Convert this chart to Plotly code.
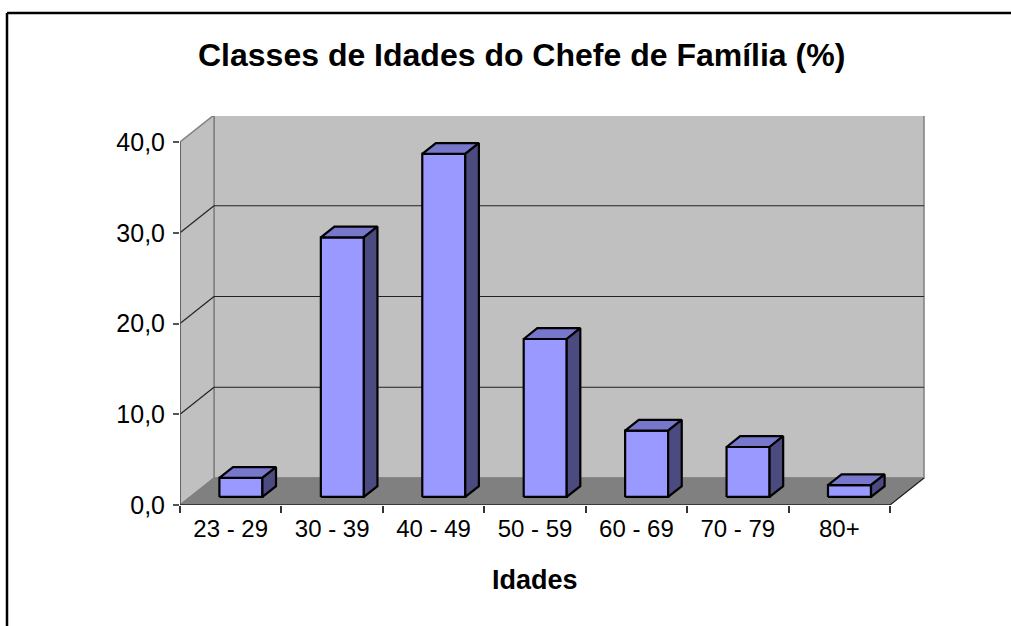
import plotly.graph_objects as go

# ---- data ----
categories = ["23 - 29", "30 - 39", "40 - 49", "50 - 59", "60 - 69", "70 - 79", "80+"]
values = [2.1, 28.6, 37.8, 17.4, 7.3, 5.5, 1.3]
y_ticks = [0, 10, 20, 30, 40]
title_text = "Classes de Idades do Chefe de Família (%)"
x_title = "Idades"

# ---- geometry (in axis units) ----
W, H = 1011, 626
L_M, R_M, T_M, B_M = 180, 86, 116, 121
PW, PH = W - L_M - R_M, H - T_M - B_M
n = len(categories)
x_lo = -0.5
x_hi = n - 0.5
px_per_x = PW / (n + 0.345)
DX = 34 / px_per_x          # depth offset in x units
DY = 2.975                  # depth offset in y units
ymax = 40
yr_top = PH / 9.075
bar_w = 0.424
d0, d1 = 0.3, 0.7           # bar position in depth

FONT = "Liberation Sans, Arial, sans-serif"
front_c, top_c, side_c = "#9999ff", "#7777cc", "#4b4b80"
wall_c, floor_c = "#c0c0c0", "#808080"

shapes = []
def poly(pts, fill, line_c, lw=1, layer="below"):
    p = "M " + " L ".join(f"{x},{y}" for x, y in pts) + " Z"
    shapes.append(dict(type="path", path=p, xref="x", yref="y",
                       fillcolor=fill, line=dict(color=line_c, width=lw), layer=layer))
def seg(x0, y0, x1, y1, c, lw=1, layer="below"):
    shapes.append(dict(type="line", x0=x0, y0=y0, x1=x1, y1=y1, xref="x", yref="y",
                       line=dict(color=c, width=lw), layer=layer))

# back wall, left wall, floor
poly([(x_lo + DX, DY), (x_hi + DX, DY), (x_hi + DX, ymax + DY), (x_lo + DX, ymax + DY)], wall_c, "#808080", 1.5)
poly([(x_lo, 0), (x_lo, ymax), (x_lo + DX, ymax + DY), (x_lo + DX, DY)], wall_c, "#808080", 1.5)
poly([(x_lo, 0), (x_hi, 0), (x_hi + DX, DY), (x_lo + DX, DY)], floor_c, floor_c, 1)
# gridlines
for t in y_ticks[1:-1]:
    seg(x_lo + DX, t + DY, x_hi + DX, t + DY, "#222222", 1.2)
    seg(x_lo, t, x_lo + DX, t + DY, "#222222", 1.2)
# front axes
seg(x_lo, 0, x_lo, ymax, "#555555", 1.5)
seg(x_lo, 0, x_hi, 0, "#222222", 1.5)
seg(x_hi, 0, x_hi + DX, DY, "#222222", 1.2)

fig = go.Figure()
for i, v in enumerate(values):
    x0 = i - bar_w / 2 + d0 * DX
    x1 = i + bar_w / 2 + d0 * DX
    yb = d0 * DY
    yt = v + d0 * DY
    ddx, ddy = (d1 - d0) * DX, (d1 - d0) * DY
    faces = [
        ([x0, x1, x1, x0, x0], [yb, yb, yt, yt, yb], front_c),
        ([x0, x1, x1 + ddx, x0 + ddx, x0], [yt, yt, yt + ddy, yt + ddy, yt], top_c),
        ([x1, x1 + ddx, x1 + ddx, x1, x1], [yb, yb + ddy, yt + ddy, yt, yb], side_c),
    ]
    for xs, ys, c in faces:
        fig.add_trace(go.Scatter(x=xs, y=ys, mode="lines", fill="toself", fillcolor=c,
                                 line=dict(color="black", width=2.2), hoverinfo="skip",
                                 showlegend=False))

# invisible trace for second x-axis
fig.add_trace(go.Scatter(x=[x_lo], y=[0], xaxis="x2", mode="markers",
                         marker=dict(opacity=0), showlegend=False, hoverinfo="skip"))

bx = (7 - L_M) / PW
by = (H - B_M - 13) / PH
xr = [x_lo, x_lo + PW / px_per_x]
fig.update_layout(
    width=W, height=H,
    margin=dict(l=L_M, r=R_M, t=T_M, b=B_M),
    paper_bgcolor="white", plot_bgcolor="white",
    separators=",.",
    font=dict(family=FONT, color="black"),
    xaxis=dict(range=xr, tickvals=list(range(n)), ticktext=categories, ticks="",
               showgrid=False, zeroline=False, showline=False,
               tickfont=dict(size=24), ticklabelstandoff=7),
    xaxis2=dict(range=xr, overlaying="x", anchor="y", side="bottom",
                tickvals=[i - 0.5 for i in range(n + 1)], showticklabels=False,
                ticks="outside", ticklen=7, tickcolor="#333333", tickwidth=1.5,
                showgrid=False, zeroline=False, showline=False),
    yaxis=dict(range=[0, yr_top], tickvals=y_ticks, tickformat=".1f", ticks="outside",
               ticklen=6, tickcolor="#555555", tickwidth=1.5, showgrid=False,
               zeroline=False, showline=False, tickfont=dict(size=25),
               ticklabelstandoff=3),
    shapes=shapes + [
        dict(type="line", xref="paper", yref="paper",
             x0=bx, x1=(W - L_M) / PW, y0=by, y1=by,
             line=dict(color="black", width=2.5)),
        dict(type="line", xref="paper", yref="paper",
             x0=bx, x1=bx, y0=by, y1=-B_M / PH,
             line=dict(color="black", width=2.5)),
    ],
    annotations=[
        dict(text=title_text, xref="paper", yref="paper",
             x=(521 - L_M) / PW, y=(H - B_M - 55) / PH,
             showarrow=False, font=dict(size=32, family=FONT, weight="bold"),
             xanchor="center", yanchor="middle"),
        dict(text=x_title, xref="paper", yref="paper",
             x=(535 - L_M) / PW, y=(H - B_M - 580) / PH,
             showarrow=False, font=dict(size=27, family=FONT, weight="bold"),
             xanchor="center", yanchor="middle"),
    ],
)
fig.write_html("out.html", config={"displayModeBar": False},
               post_script="document.documentElement.style.margin='0';document.body.style.margin='0';document.body.style.padding='0';document.documentElement.style.overflow='hidden';document.body.style.overflow='hidden';")
